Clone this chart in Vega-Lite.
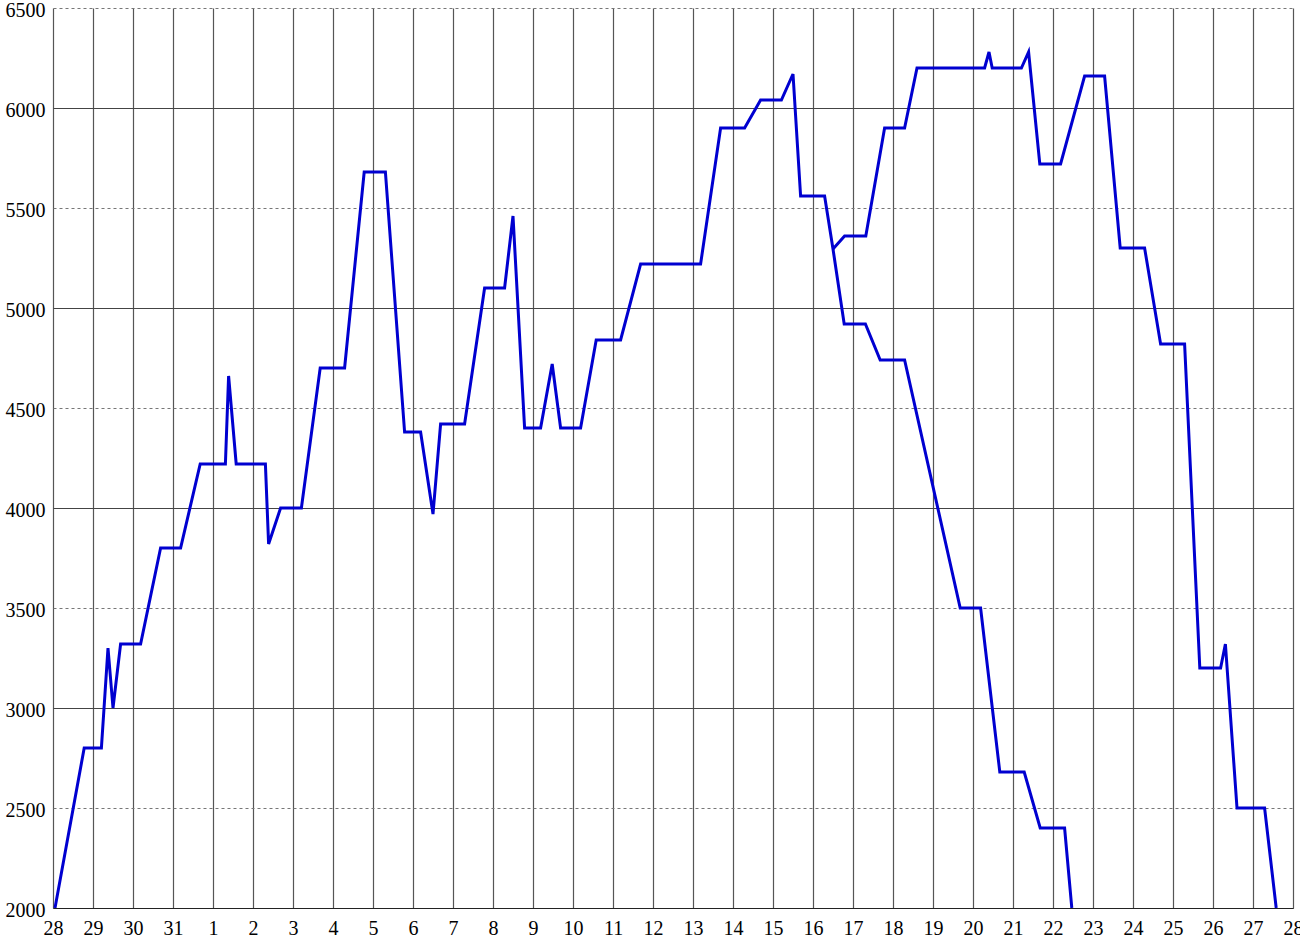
{
  "$schema": "https://vega.github.io/schema/vega-lite/v6.json",
  "width": 1240,
  "height": 900,
  "autosize": "none",
  "padding": {"left": 53, "top": 8, "right": 7, "bottom": 30},
  "background": "white",
  "config": {"view": {"stroke": null}},
  "data": {"values": [
    {"s": "A", "d": 0.05, "v": 2000},
    {"s": "A", "d": 0.78, "v": 2800},
    {"s": "A", "d": 1.21, "v": 2800},
    {"s": "A", "d": 1.375, "v": 3300},
    {"s": "A", "d": 1.5, "v": 3000},
    {"s": "A", "d": 1.69, "v": 3320},
    {"s": "A", "d": 2.19, "v": 3320},
    {"s": "A", "d": 2.69, "v": 3800},
    {"s": "A", "d": 3.19, "v": 3800},
    {"s": "A", "d": 3.68, "v": 4220},
    {"s": "A", "d": 4.31, "v": 4220},
    {"s": "A", "d": 4.39, "v": 4660},
    {"s": "A", "d": 4.58, "v": 4220},
    {"s": "A", "d": 5.31, "v": 4220},
    {"s": "A", "d": 5.39, "v": 3820},
    {"s": "A", "d": 5.69, "v": 4000},
    {"s": "A", "d": 6.21, "v": 4000},
    {"s": "A", "d": 6.68, "v": 4700},
    {"s": "A", "d": 7.29, "v": 4700},
    {"s": "A", "d": 7.78, "v": 5680},
    {"s": "A", "d": 8.31, "v": 5680},
    {"s": "A", "d": 8.79, "v": 4380},
    {"s": "A", "d": 9.19, "v": 4380},
    {"s": "A", "d": 9.5, "v": 3970},
    {"s": "A", "d": 9.69, "v": 4420},
    {"s": "A", "d": 10.29, "v": 4420},
    {"s": "A", "d": 10.79, "v": 5100},
    {"s": "A", "d": 11.29, "v": 5100},
    {"s": "A", "d": 11.5, "v": 5460},
    {"s": "A", "d": 11.79, "v": 4400},
    {"s": "A", "d": 12.19, "v": 4400},
    {"s": "A", "d": 12.48, "v": 4720},
    {"s": "A", "d": 12.69, "v": 4400},
    {"s": "A", "d": 13.19, "v": 4400},
    {"s": "A", "d": 13.58, "v": 4840},
    {"s": "A", "d": 14.19, "v": 4840},
    {"s": "A", "d": 14.69, "v": 5220},
    {"s": "A", "d": 16.19, "v": 5220},
    {"s": "A", "d": 16.69, "v": 5900},
    {"s": "A", "d": 17.29, "v": 5900},
    {"s": "A", "d": 17.69, "v": 6040},
    {"s": "A", "d": 18.21, "v": 6040},
    {"s": "A", "d": 18.5, "v": 6170},
    {"s": "A", "d": 18.69, "v": 5560},
    {"s": "A", "d": 19.29, "v": 5560},
    {"s": "A", "d": 19.5, "v": 5295},
    {"s": "A", "d": 19.78, "v": 4920},
    {"s": "A", "d": 20.31, "v": 4920},
    {"s": "A", "d": 20.68, "v": 4740},
    {"s": "A", "d": 21.29, "v": 4740},
    {"s": "A", "d": 22.68, "v": 3500},
    {"s": "A", "d": 23.19, "v": 3500},
    {"s": "A", "d": 23.67, "v": 2680},
    {"s": "A", "d": 24.28, "v": 2680},
    {"s": "A", "d": 24.68, "v": 2400},
    {"s": "A", "d": 25.29, "v": 2400},
    {"s": "A", "d": 25.47, "v": 2000},
    {"s": "B", "d": 19.5, "v": 5295},
    {"s": "B", "d": 19.79, "v": 5360},
    {"s": "B", "d": 20.32, "v": 5360},
    {"s": "B", "d": 20.79, "v": 5900},
    {"s": "B", "d": 21.29, "v": 5900},
    {"s": "B", "d": 21.6, "v": 6200},
    {"s": "B", "d": 23.29, "v": 6200},
    {"s": "B", "d": 23.4, "v": 6280},
    {"s": "B", "d": 23.48, "v": 6200},
    {"s": "B", "d": 24.21, "v": 6200},
    {"s": "B", "d": 24.39, "v": 6280},
    {"s": "B", "d": 24.67, "v": 5720},
    {"s": "B", "d": 25.19, "v": 5720},
    {"s": "B", "d": 25.79, "v": 6160},
    {"s": "B", "d": 26.29, "v": 6160},
    {"s": "B", "d": 26.68, "v": 5300},
    {"s": "B", "d": 27.29, "v": 5300},
    {"s": "B", "d": 27.69, "v": 4820},
    {"s": "B", "d": 28.29, "v": 4820},
    {"s": "B", "d": 28.67, "v": 3200},
    {"s": "B", "d": 29.19, "v": 3200},
    {"s": "B", "d": 29.31, "v": 3320},
    {"s": "B", "d": 29.6, "v": 2500},
    {"s": "B", "d": 30.29, "v": 2500},
    {"s": "B", "d": 30.58, "v": 2000}
  ]},
  "mark": {"type": "line", "color": "#0000d0", "strokeWidth": 3, "strokeJoin": "miter", "clip": true},
  "encoding": {
    "x": {
      "field": "d", "type": "quantitative",
      "scale": {"domain": [0, 31], "nice": false, "zero": false},
      "axis": {
        "title": null,
        "values": [0,1,2,3,4,5,6,7,8,9,10,11,12,13,14,15,16,17,18,19,20,21,22,23,24,25,26,27,28,29,30,31],
        "labelExpr": "datum.value < 4 ? datum.value + 28 : datum.value - 3",
        "labelFont": "Liberation Serif", "labelFontSize": 20, "labelColor": "#000",
        "labelPadding": 10, "labelFlush": false, "labelOverlap": false,
        "ticks": false, "domain": true, "domainColor": "#222", "domainWidth": 1.2,
        "grid": true, "gridColor": "#555", "gridWidth": 1.2, "gridOpacity": 1
      }
    },
    "y": {
      "field": "v", "type": "quantitative",
      "scale": {"domain": [2000, 6500], "nice": false, "zero": false},
      "axis": {
        "title": null,
        "format": "d",
        "values": [2000,2500,3000,3500,4000,4500,5000,5500,6000,6500],
        "labelFont": "Liberation Serif", "labelFontSize": 20, "labelColor": "#000",
        "labelPadding": 8, "labelFlush": false, "labelOverlap": false,
        "labelBaseline": "middle", "labelOffset": 2,
        "ticks": false, "domain": false,
        "grid": true, "gridOpacity": 1, "gridWidth": 1.1,
        "gridColor": {"condition": {"test": "datum.value % 1000 === 0", "value": "#444"}, "value": "#777"},
        "gridDash": {"condition": {"test": "datum.value % 1000 === 0", "value": []}, "value": [3, 3]}
      }
    },
    "detail": {"field": "s", "type": "nominal"}
  }
}
